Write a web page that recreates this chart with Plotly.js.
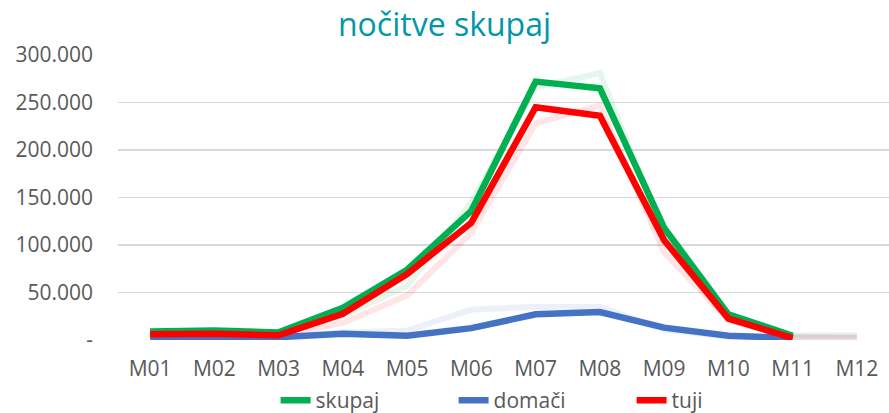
<!DOCTYPE html>
<html>
<head>
<meta charset="utf-8">
<script src="https://cdn.plot.ly/plotly-3.0.1.min.js"></script>
<style>html,body{margin:0;padding:0;background:#fff;}#chart{width:889px;height:413px;}</style>
</head>
<body>
<div id="chart"></div>
<script>
var months = ["M01","M02","M03","M04","M05","M06","M07","M08","M09","M10","M11","M12"];
var skupaj = [9000, 10000, 8000, 34000, 74000, 136000, 272000, 265000, 118000, 27000, 4500, null];
var domaci = [3000, 3500, 3000, 6500, 4500, 12500, 27000, 29500, 13000, 4500, 2000, null];
var tuji   = [6000, 6500, 5000, 27500, 69500, 123500, 245000, 236000, 105000, 22500, 2000, null];
// faint background series (previous period)
var skupajPrev = [9000, 9500, 8000, 26000, 57000, 145000, 266000, 281000, 110000, 24000, 5000, 5000];
var domaciPrev = [3000, 3500, 3000, 8000, 10000, 32000, 35000, 35000, 11000, 3500, 2000, 2000];
var tujiPrev   = [6000, 6000, 5000, 18000, 47000, 113000, 228000, 247000, 92000, 21000, 3000, 3000];
var yTicks = [0, 50000, 100000, 150000, 200000, 250000, 300000];
var yTickText = ["-", "50.000", "100.000", "150.000", "200.000", "250.000", "300.000"];

var font = "Open Sans, sans-serif";
function faint(y, color) {
  return {x: months, y: y, type: "scatter", mode: "lines", showlegend: false, hoverinfo: "skip",
    line: {color: color, width: 6}, opacity: 0.1};
}
function main(y, name, color) {
  return {x: months, y: y, type: "scatter", mode: "lines", name: name,
    line: {color: color, width: 6.5}};
}
var data = [
  faint(skupajPrev, "#00B050"),
  faint(domaciPrev, "#4472C4"),
  faint(tujiPrev, "#FF0000"),
  main(skupaj, "skupaj", "#00B050"),
  main(domaci, "domači", "#4472C4"),
  main(tuji, "tuji", "#FF0000")
];
var layout = {
  width: 889, height: 413,
  margin: {l: 118, r: 0, t: 55, b: 73},
  paper_bgcolor: "#fff", plot_bgcolor: "#fff",
  font: {family: font, color: "#595959", size: 21},
  title: {text: "nočitve skupaj", font: {family: font, size: 32, color: "#0097A7"}, x: 0.5, xanchor: "center",
    yref: "container", y: 0.94, yanchor: "middle"},
  xaxis: {type: "category", categoryarray: months, range: [-0.5, 11.5], showgrid: false, zeroline: false, showline: false,
    ticks: "", ticklabelstandoff: 14, automargin: false, tickfont: {size: 21, color: "#595959"}},
  yaxis: {range: [0, 300000], tickvals: yTicks, ticktext: yTickText, showgrid: true, gridcolor: "#D9D9D9", gridwidth: 1.5,
    zeroline: false, showline: false, ticks: "", ticklabelstandoff: 24, automargin: false, tickfont: {size: 21, color: "#595959"}},
  showlegend: true,
  legend: {orientation: "h", xref: "container", x: 0.31, xanchor: "left", yref: "container", y: 0.03, yanchor: "middle",
    traceorder: "normal", entrywidth: 133, entrywidthmode: "pixels",
    font: {size: 21, color: "#595959"}, itemwidth: 30}
};
Plotly.newPlot("chart", data, layout, {displayModeBar: false, staticPlot: true});
</script>
</body>
</html>
